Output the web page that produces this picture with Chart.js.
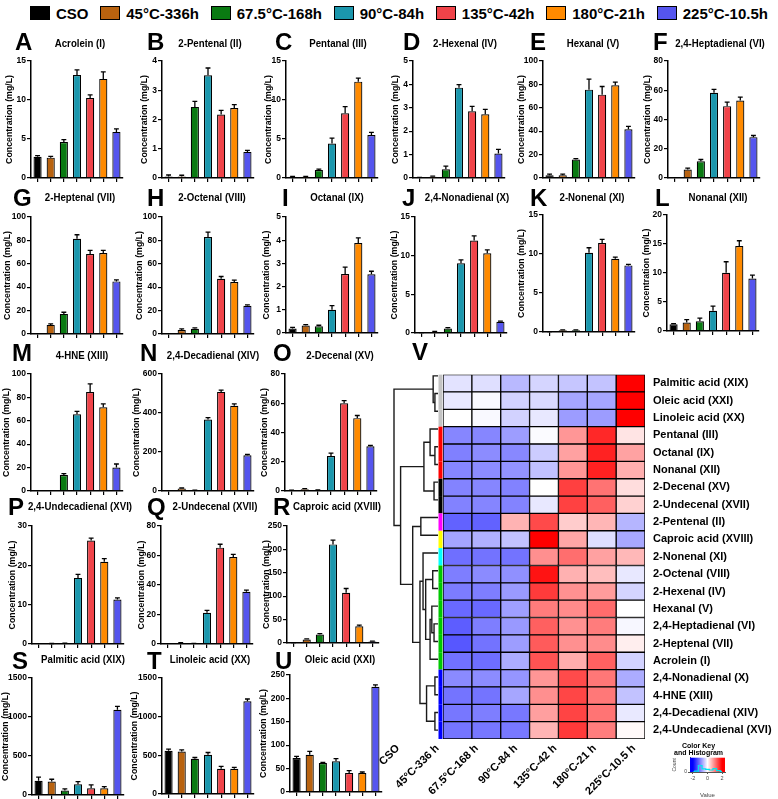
<!DOCTYPE html>
<html lang="en">
<head>
  <meta charset="UTF-8">
  <title>Aldehydes and fatty acids in heated oil</title>
  <script src="https://cdn.jsdelivr.net/npm/chart.js"></script>
  <style>
    body { margin: 0; background: #fff; }
    #fig { position: relative; width: 778px; height: 799px; overflow: hidden; background: #fff; }
    #fig canvas { position: absolute; }
    .letter { position: absolute; font: bold 24px/24px "Liberation Sans", Arial, sans-serif; color: #000; }
    .ptitle { position: absolute; width: 200px; text-align: center; white-space: nowrap;
      transform: scaleX(0.84); transform-origin: 50% 50%;
      font: bold 11.5px/11.5px "Liberation Sans", Arial, sans-serif; }
    #legend { position: absolute; left: 30px; top: 3px; width: 738px; height: 20px;
      display: flex; justify-content: space-between; align-items: center; }
    #legend .item { display: flex; align-items: center; white-space: nowrap;
      font: bold 15px "Liberation Sans", Arial, sans-serif; }
    #legend .box { width: 18px; height: 12px; border: 1.5px solid #000; margin-right: 6px; }
  </style>
</head>
<body>
<div id="fig"><div id="legend"></div></div>
<script>
// ---------- data ----------
const groups = ['CSO', '45°C-336h', '67.5°C-168h', '90°C-84h', '135°C-42h', '180°C-21h', '225°C-10.5h'];
const heatCols = ['CSO', '45°C-336 h', '67.5°C-168 h', '90°C-84 h', '135°C-42 h', '180°C-21 h', '225°C-10.5 h'];

// mean concentration (mg/L) and SD, in group order
const acrolein = [2.7, 2.6, 4.6, 13.2, 10.25, 12.7, 5.9];
const acroleinSd = [0.15, 0.15, 0.3, 0.65, 0.4, 0.9, 0.4];
const pentenal = [0.05, 0.05, 2.43, 3.51, 2.17, 2.39, 0.89];
const pentenalSd = [0.05, 0.04, 0.19, 0.25, 0.14, 0.12, 0.05];
const pentanal = [0.15, 0.15, 1.02, 4.4, 8.3, 12.35, 5.5];
const pentanalSd = [0.05, 0.05, 0.1, 0.7, 0.85, 0.45, 0.35];
const hexenal = [0.01, 0.05, 0.37, 3.86, 2.85, 2.72, 1.04];
const hexenalSd = [0.01, 0.03, 0.13, 0.13, 0.21, 0.21, 0.18];
const hexanal = [2.3, 2.3, 15.7, 75.5, 71.2, 79.2, 41.6];
const hexanalSd = [1, 1, 0.8, 9, 7, 2.8, 2.5];
const heptadienal = [0, 5.7, 11.4, 58.3, 49.1, 53, 27.9];
const heptadienalSd = [0, 1, 1.2, 2.3, 2.7, 2.3, 1.1];
const heptenal = [0, 7.7, 17.1, 81.4, 68.3, 69.1, 44.9];
const heptenalSd = [0, 0.9, 1.4, 3.4, 3.1, 2.3, 1.4];
const octenal = [0, 3.4, 4.3, 82.9, 47.1, 44.3, 24];
const octenalSd = [0, 0.9, 0.8, 4.2, 2, 1.7, 0.9];
const octanal = [0.19, 0.32, 0.29, 1.0, 2.54, 3.88, 2.53];
const octanalSd = [0.05, 0.04, 0.04, 0.18, 0.3, 0.22, 0.13];
const nonadienal = [0.02, 0.13, 0.56, 9.0, 11.96, 10.3, 1.43];
const nonadienalSd = [0.01, 0.05, 0.13, 0.45, 0.6, 0.45, 0.1];
const nonenal = [0.03, 0.21, 0.21, 10.16, 11.4, 9.39, 8.53];
const nonenalSd = [0.01, 0.05, 0.05, 0.64, 0.47, 0.21, 0.13];
const nonanal = [1.15, 1.44, 1.67, 3.46, 10.03, 14.64, 9.05];
const nonanalSd = [0.12, 0.5, 0.55, 0.8, 1.9, 0.92, 0.58];
const hne = [0, 0, 13.5, 65.5, 84.5, 71.5, 20];
const hneSd = [0, 0, 1.3, 2.5, 7, 3, 3];
const decadienal = [0, 12, 3, 366, 508, 437, 183];
const decadienalSd = [0, 3, 1, 10, 9, 10, 4];
const decenal = [0.3, 1.1, 0.4, 23.9, 60, 49.8, 30.5];
const decenalSd = [0.2, 0.5, 0.3, 2, 1.8, 1.8, 0.7];
const undecadienal = [0, 0.05, 0.1, 16.8, 26.3, 20.9, 11.3];
const undecadienalSd = [0, 0.05, 0.1, 0.9, 0.6, 0.8, 0.4];
const undecenal = [0, 0.5, 0.2, 21.1, 65.3, 59, 35.4];
const undecenalSd = [0, 0.3, 0.1, 1.6, 2.3, 1.8, 1.1];
const caproic = [0.3, 7.1, 17.9, 210.7, 107, 35.7, 2.9];
const caproicSd = [0.2, 1.4, 2, 9.3, 9.3, 2.1, 0.7];
const palmitic = [180, 171, 56, 137, 86, 86, 1093];
const palmiticSd = [47, 30, 21, 34, 43, 21, 43];
const linoleic = [558, 549, 454, 506, 324, 324, 1198];
const linoleicSd = [21, 22, 17, 30, 31, 18, 30];
const oleic = [72.4, 79.5, 61.8, 65.3, 40.5, 40.5, 225];
const oleicSd = [3.6, 7, 1.4, 5.7, 5, 2.1, 3.7];

// letter, title, means, sd, axis max, tick step
const panels = [
  ['A', 'Acrolein (I)', acrolein, acroleinSd, 15, 5],
  ['B', '2-Pentenal (II)', pentenal, pentenalSd, 4, 1],
  ['C', 'Pentanal (III)', pentanal, pentanalSd, 15, 5],
  ['D', '2-Hexenal (IV)', hexenal, hexenalSd, 5, 1],
  ['E', 'Hexanal (V)', hexanal, hexanalSd, 100, 20],
  ['F', '2,4-Heptadienal (VI)', heptadienal, heptadienalSd, 80, 20],
  ['G', '2-Heptenal (VII)', heptenal, heptenalSd, 100, 20],
  ['H', '2-Octenal (VIII)', octenal, octenalSd, 100, 20],
  ['I', 'Octanal (IX)', octanal, octanalSd, 5, 1],
  ['J', '2,4-Nonadienal (X)', nonadienal, nonadienalSd, 15, 5],
  ['K', '2-Nonenal (XI)', nonenal, nonenalSd, 15, 5],
  ['L', 'Nonanal (XII)', nonanal, nonanalSd, 20, 5],
  ['M', '4-HNE (XIII)', hne, hneSd, 100, 20],
  ['N', '2,4-Decadienal (XIV)', decadienal, decadienalSd, 600, 200],
  ['O', '2-Decenal (XV)', decenal, decenalSd, 80, 20],
  ['P', '2,4-Undecadienal (XVI)', undecadienal, undecadienalSd, 30, 10],
  ['Q', '2-Undecenal (XVII)', undecenal, undecenalSd, 80, 20],
  ['R', 'Caproic acid (XVIII)', caproic, caproicSd, 250, 50],
  ['S', 'Palmitic acid (XIX)', palmitic, palmiticSd, 1500, 500],
  ['T', 'Linoleic acid (XX)', linoleic, linoleicSd, 1500, 500],
  ['U', 'Oleic acid (XXI)', oleic, oleicSd, 250, 50]
];

// heatmap (row z-scores, clustered order)
const heatRows = ['Palmitic acid (XIX)', 'Oleic acid (XXI)', 'Linoleic acid (XX)', 'Pentanal (III)', 'Octanal (IX)',
  'Nonanal (XII)', '2-Decenal (XV)', '2-Undecenal (XVII)', '2-Pentenal (II)', 'Caproic acid (XVIII)', '2-Nonenal (XI)',
  '2-Octenal (VIII)', '2-Hexenal (IV)', 'Hexanal (V)', '2,4-Heptadienal (VI)', '2-Heptenal (VII)', 'Acrolein (I)',
  '2,4-Nonadienal (X)', '4-HNE (XIII)', '2,4-Decadienal (XIV)', '2,4-Undecadienal (XVI)'];
const heatZ = [
  [-0.22, -0.25, -0.55, -0.33, -0.45, -0.47, 2.25],
  [-0.18, -0.05, -0.35, -0.3, -0.7, -0.7, 2.29],
  [0, -0.05, -0.35, -0.18, -0.78, -0.78, 2.15],
  [-0.95, -0.95, -0.77, -0.03, 0.82, 1.69, 0.21],
  [-1.0, -0.9, -0.93, -0.4, 0.74, 1.73, 0.73],
  [-0.95, -0.9, -0.85, -0.49, 0.82, 1.74, 0.63],
  [-0.97, -0.95, -0.98, 0, 1.5, 1.1, 0.27],
  [-0.98, -0.96, -0.97, -0.18, 1.49, 1.25, 0.36],
  [-1.23, -1.23, 0.6, 1.42, 0.4, 0.57, -0.58],
  [-0.71, -0.62, -0.48, 2.05, 0.7, -0.26, -0.68],
  [-1.13, -1.1, -1.1, 0.88, 1.14, 0.74, 0.56],
  [-1.01, -0.91, -0.87, 1.85, 0.61, 0.51, -0.18],
  [-1.03, -1.01, -0.79, 1.54, 0.86, 0.78, -0.34],
  [-1.18, -1.18, -0.75, 1.03, 0.91, 1.15, 0],
  [-1.27, -1.01, -0.8, 1.25, 0.86, 1.03, -0.06],
  [-1.32, -1.1, -0.77, 1.29, 0.87, 0.9, 0.13],
  [-1.11, -1.14, -0.65, 1.35, 0.65, 1.24, -0.35],
  [-0.92, -0.9, -0.83, 0.82, 1.41, 1.07, -0.65],
  [-1.09, -1.09, -0.7, 0.88, 1.45, 1.06, -0.48],
  [-1.07, -1.01, -1.06, 0.75, 1.47, 1.09, -0.17],
  [-1.08, -1.07, -1.06, 0.59, 1.55, 1.02, 0.05]
];
const rowCluster = [0, 0, 0, 1, 1, 1, 2, 2, 3, 4, 5, 6, 6, 6, 6, 6, 6, 7, 7, 7, 7];
// dendrogram merges: [left, right, height]; numbers are rows, 'mK' is merge K
const merges = [
  [1, 2, 0.7], [0, 'm0', 1.1], [4, 5, 0.7], [3, 'm2', 1.8], [6, 7, 0.9], ['m3', 'm4', 3.2],
  [8, 9, 3.9], [11, 12, 1.2], [14, 15, 0.9], [13, 'm8', 1.4], ['m9', 16, 1.8], ['m7', 'm10', 2.8],
  [10, 'm11', 3.4], [17, 18, 0.7], [19, 20, 0.7], ['m13', 'm14', 2.6], ['m12', 'm15', 4.1],
  ['m6', 'm16', 5.75], ['m5', 'm17', 8.5], ['m1', 'm18', 10]
];
const keyBins = [-2, -1.5, -1, -0.5, 0, 0.5, 1, 1.5, 2];
const keyCounts = [0, 6, 44, 22, 18, 14, 24, 10, 5];

// ---------- styles / layout ----------
const groupColors = ['#000000', '#b8620f', '#0a7a12', '#1b97ad', '#f04349', '#ff8a00', '#5555ee'];
const clusterColors = ['#c4c4c4', '#ff0000', '#000000', '#ff00ff', '#ffff00', '#00ffff', '#00c800', '#0000ff'];
const REG = '"Liberation Sans", Arial, sans-serif';

// axis x, top tick y, zero y, y-axis box width
const panelBox = {
  A: [31, 61, 178, 27], B: [162, 61, 178, 23], C: [286, 61, 178, 23], D: [413, 61, 178, 23], E: [543, 61, 178, 27], F: [668, 61, 178, 26],
  G: [31, 217, 334, 29], H: [162, 217, 334, 28], I: [286, 217, 333, 25], J: [415, 217, 333, 26], K: [543, 215, 332, 27], L: [667, 215, 331, 26],
  M: [31, 374, 491, 30], N: [162, 374, 491, 31], O: [285, 374, 491, 26],
  P: [32, 525.5, 643, 25], Q: [161, 525.5, 643, 25], R: [287, 525.5, 642, 26],
  S: [32, 678, 795, 32], T: [162, 678, 794, 33], U: [290, 675, 792.3, 32]
};
// letter left x, title centre x, row
const panelHead = {
  A: [15, 80, 0], B: [147, 210, 0], C: [275, 338, 0], D: [403, 465, 0], E: [530, 593, 0], F: [653, 720, 0],
  G: [13, 80, 1], H: [147, 212, 1], I: [282, 337, 1], J: [402, 467, 1], K: [530, 592, 1], L: [655, 718, 1],
  M: [12, 82, 2], N: [140, 213, 2], O: [273, 340, 2],
  P: [8, 80, 3], Q: [147, 215, 3], R: [273, 337, 3],
  S: [12, 83, 4], T: [147, 210, 4], U: [275, 340, 4]
};
const rowTitleY = [44, 198, 356, 507, 660];
const rowLetterY = [41.5, 197.5, 352.5, 507, 661];

Chart.defaults.color = '#000';
Chart.defaults.font.family = REG;

const fig = document.getElementById('fig');

// legend
const legend = document.getElementById('legend');
groups.forEach((g, i) => {
  const item = document.createElement('div');
  item.className = 'item';
  const box = document.createElement('span');
  box.className = 'box';
  box.style.background = groupColors[i];
  const txt = document.createElement('span');
  txt.textContent = g;
  item.appendChild(box);
  item.appendChild(txt);
  legend.appendChild(item);
});

function addCanvas(left, top, w, h) {
  const cv = document.createElement('canvas');
  cv.width = w; cv.height = h;
  cv.style.left = left + 'px'; cv.style.top = top + 'px';
  cv.style.width = w + 'px'; cv.style.height = h + 'px';
  fig.appendChild(cv);
  return cv;
}

function addText(cls, text, left, top) {
  const d = document.createElement('div');
  d.className = cls;
  d.textContent = text;
  d.style.left = left + 'px';
  d.style.top = top + 'px';
  fig.appendChild(d);
}

// upper error bars
const errorBars = {
  id: 'errorBars',
  afterDatasetsDraw(chart) {
    const ctx = chart.ctx;
    const ds = chart.data.datasets[0];
    const y = chart.scales.y;
    ctx.save();
    ctx.strokeStyle = '#000';
    ctx.lineWidth = 1.3;
    chart.getDatasetMeta(0).data.forEach((bar, i) => {
      const e = ds.sd[i];
      if (!e) return;
      const top = y.getPixelForValue(ds.data[i] + e);
      const half = bar.width * 0.3;
      ctx.beginPath();
      ctx.moveTo(bar.x, bar.y);
      ctx.lineTo(bar.x, top);
      ctx.moveTo(bar.x - half, top);
      ctx.lineTo(bar.x + half, top);
      ctx.stroke();
    });
    ctx.restore();
  }
};

// ---------- bar panels ----------
panels.forEach(([letter, title, vals, sd, max, step]) => {
  const [ax, top, zero, yw] = panelBox[letter];
  const padTop = 7, xh = 6, plotW = 92, padR = 3;
  const w = yw + plotW + padR, h = padTop + Math.round(zero - top) + xh;
  const cv = addCanvas(ax - yw, top - padTop, w, h);

  new Chart(cv, {
    type: 'bar',
    data: {
      labels: groups,
      datasets: [{
        data: vals,
        sd: sd,
        backgroundColor: groupColors,
        borderColor: '#000',
        borderWidth: 1.2,
        barPercentage: 0.62,
        categoryPercentage: 1
      }]
    },
    options: {
      responsive: false,
      animation: false,
      devicePixelRatio: 1,
      layout: { autoPadding: false, padding: { top: padTop, right: padR, bottom: 0, left: 0 } },
      plugins: { legend: { display: false }, tooltip: { enabled: false } },
      scales: {
        x: {
          grid: { offset: false, drawOnChartArea: false, drawTicks: true, tickLength: 4, color: '#000', lineWidth: 1.2 },
          border: { display: true, color: '#000', width: 1.5 },
          ticks: { display: false },
          afterFit(s) { s.height = xh; }
        },
        y: {
          min: 0,
          max: max,
          ticks: { stepSize: step, padding: 1, color: '#000', font: { size: 8.5, weight: 'bold' },
            callback: v => String(v) },
          grid: { drawOnChartArea: false, tickLength: 4, color: '#000', lineWidth: 1.2 },
          border: { display: true, color: '#000', width: 1.5 },
          title: { display: true, text: 'Concentration (mg/L)', color: '#000', padding: 0,
            font: { size: 8.8, weight: 'bold' } },
          afterFit(s) { s.width = yw; }
        }
      }
    },
    plugins: [errorBars]
  });

  const [lx, tcx, row] = panelHead[letter];
  addText('letter', letter, lx, rowLetterY[row] - 11.7);
  addText('ptitle', title, tcx - 100, rowTitleY[row] - 5.6);
});

// ---------- heatmap ----------
addText('letter', 'V', 412, 340);

function zColor(z) {
  const t = Math.max(-1, Math.min(1, z / 2));
  if (t < 0) {
    const c = Math.round(255 * (1 + t));
    return `rgb(${c},${c},255)`;
  }
  const c = Math.round(255 * (1 - t));
  return `rgb(255,${c},${c})`;
}

const clusterStrip = {
  id: 'clusterStrip',
  afterDatasetsDraw(chart) {
    const ctx = chart.ctx, y = chart.scales.y, a = chart.chartArea;
    const rh = (a.bottom - a.top) / heatRows.length;
    ctx.save();
    rowCluster.forEach((c, i) => {
      ctx.fillStyle = clusterColors[c];
      ctx.fillRect(a.left - 4.5, y.getPixelForValue(i) - rh / 2, 4, rh);
    });
    ctx.restore();
  }
};

const hmCv = addCanvas(376, 360, 402, 439);
new Chart(hmCv, {
  type: 'bar',
  data: {
    labels: heatRows,
    datasets: heatCols.map((c, j) => ({
      label: c,
      data: heatRows.map(() => [j, j + 1]),
      backgroundColor: heatZ.map(r => zColor(r[j])),
      borderColor: '#000',
      borderWidth: 1,
      borderSkipped: false,
      grouped: false,
      barPercentage: 1,
      categoryPercentage: 1
    }))
  },
  options: {
    indexAxis: 'y',
    responsive: false,
    animation: false,
    devicePixelRatio: 1,
    layout: { autoPadding: false, padding: { top: 6.7, left: 67, right: 0, bottom: 0 } },
    plugins: { legend: { display: false }, tooltip: { enabled: false } },
    scales: {
      x: { type: 'linear', min: 0, max: 7, display: false },
      x2: {
        type: 'linear', position: 'bottom', bounds: 'data', min: 1.145, max: 6.285,
        afterBuildTicks(s) { s.ticks = heatCols.map((c, i) => ({ value: i })); },
        ticks: { autoSkip: false, minRotation: 45, maxRotation: 45, padding: 3, color: '#000',
          font: { size: 11, weight: 'bold' }, callback: (v, i) => heatCols[i] },
        grid: { display: false, drawTicks: false },
        border: { display: false },
        afterFit(s) { s.height = 60; }
      },
      y: {
        position: 'right',
        grid: { display: false, drawTicks: false },
        border: { display: false },
        ticks: { padding: 8, color: '#000', font: { size: 11, weight: 'bold' } },
        afterFit(s) { s.width = 133; }
      }
    }
  },
  plugins: [clusterStrip]
});

// dendrogram
function dendroSets() {
  const pos = {};
  const sets = [];
  merges.forEach(([a, b, hgt], k) => {
    const ends = [a, b].map(id => typeof id === 'number' ? [0, id + 0.5] : pos[id]);
    sets.push({
      data: [
        { x: ends[0][0], y: ends[0][1] }, { x: hgt, y: ends[0][1] },
        { x: hgt, y: ends[1][1] }, { x: ends[1][0], y: ends[1][1] }
      ],
      showLine: true, borderColor: '#1a1a1a', borderWidth: 1.4, pointRadius: 0, tension: 0, fill: false, clip: false
    });
    pos['m' + k] = [hgt, (ends[0][1] + ends[1][1]) / 2];
  });
  return sets;
}

const dgCv = addCanvas(391, 366.7, 47, 372.3);
new Chart(dgCv, {
  type: 'scatter',
  data: { datasets: dendroSets() },
  options: {
    responsive: false,
    animation: false,
    devicePixelRatio: 1,
    layout: { autoPadding: false, padding: { left: 3, right: 0, top: 0, bottom: 0 } },
    plugins: { legend: { display: false }, tooltip: { enabled: false } },
    scales: {
      x: { type: 'linear', min: 0, max: 10, reverse: true, display: false },
      y: { type: 'linear', min: 0, max: heatRows.length, reverse: true, display: false }
    }
  }
});

// colour key
const keyGradient = {
  id: 'keyGradient',
  beforeDatasetsDraw(chart) {
    const ctx = chart.ctx, a = chart.chartArea, x = chart.scales.x;
    const g = ctx.createLinearGradient(a.left, 0, a.right, 0);
    [-2.4, -2, -1, 0, 1, 2, 2.4].forEach(v => {
      g.addColorStop((x.getPixelForValue(v) - a.left) / (a.right - a.left), zColor(v));
    });
    ctx.save();
    ctx.fillStyle = g;
    ctx.fillRect(a.left, a.top, a.right - a.left, a.bottom - a.top);
    ctx.restore();
  }
};

const keyCv = addCanvas(672, 741, 68, 58);
new Chart(keyCv, {
  type: 'line',
  data: {
    datasets: [{
      data: keyBins.map((b, i) => ({ x: b, y: keyCounts[i] })),
      borderColor: '#00e5ee', borderWidth: 1.2, pointRadius: 0, stepped: 'middle', fill: false
    }]
  },
  options: {
    responsive: false,
    animation: false,
    devicePixelRatio: 1,
    layout: { autoPadding: false, padding: { left: 0, right: 15, top: 0, bottom: 0 } },
    plugins: {
      legend: { display: false }, tooltip: { enabled: false },
      title: { display: true, text: ['Color Key', 'and Histogram'], color: '#000', padding: { top: 1, bottom: 1 },
        font: { size: 7, weight: 'bold', lineHeight: 1.05 } }
    },
    scales: {
      x: {
        type: 'linear', min: -2.4, max: 2.4,
        afterBuildTicks(s) { s.ticks = [{ value: -2 }, { value: 0 }, { value: 2 }]; },
        ticks: { padding: 1, color: '#444', font: { size: 5.5 } },
        grid: { drawOnChartArea: false, tickLength: 2, color: '#555' },
        border: { color: '#555' },
        title: { display: true, text: 'Value', color: '#444', padding: 0, font: { size: 6 } },
        afterFit(s) { s.height = 27; }
      },
      y: {
        min: 0, max: 100,
        afterBuildTicks(s) { s.ticks = [{ value: 0 }]; },
        ticks: { padding: 1, color: '#444', font: { size: 5 } },
        grid: { drawOnChartArea: false, tickLength: 2, color: '#555' },
        border: { color: '#555' },
        title: { display: true, text: 'Count', color: '#444', padding: 0, font: { size: 5 } },
        afterFit(s) { s.width = 18; }
      }
    }
  },
  plugins: [keyGradient]
});
</script>
</body>
</html>
